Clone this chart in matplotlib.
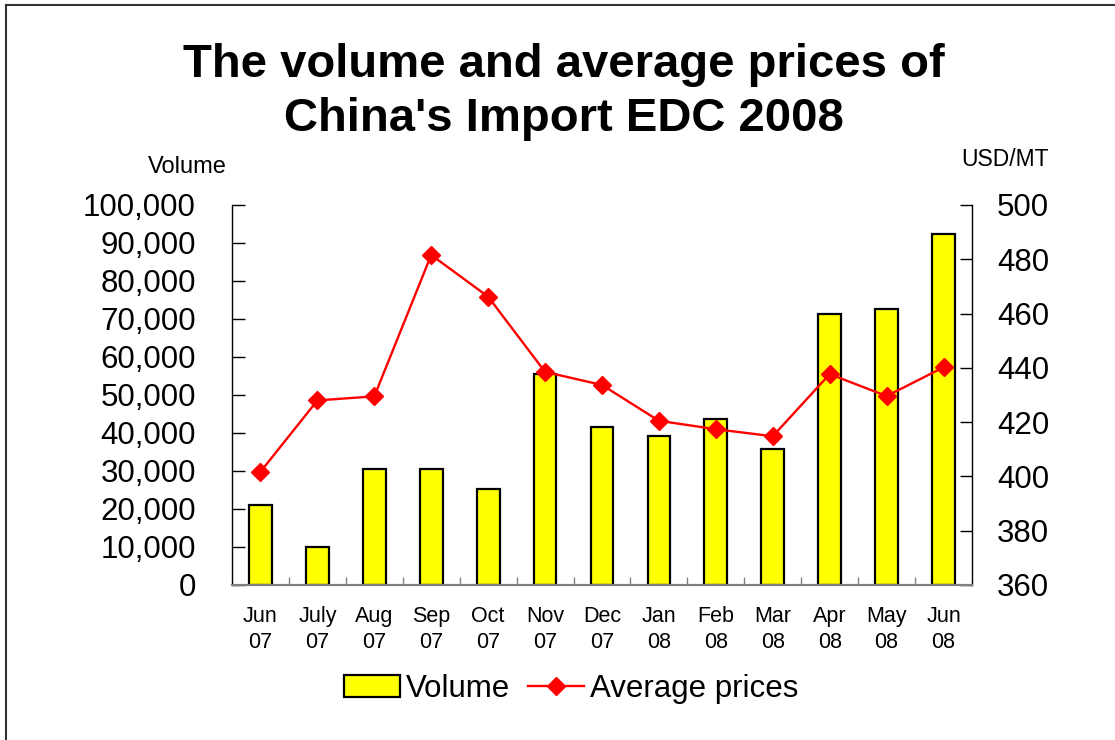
import numpy as np
import matplotlib
matplotlib.use("Agg")
import matplotlib.pyplot as plt
from matplotlib.lines import Line2D
from matplotlib.patches import Patch
from matplotlib.ticker import FuncFormatter, FixedLocator

plt.rcParams['font.family'] = ['Liberation Sans', 'DejaVu Sans']

months = ["Jun\n07", "July\n07", "Aug\n07", "Sep\n07", "Oct\n07", "Nov\n07", "Dec\n07",
          "Jan\n08", "Feb\n08", "Mar\n08", "Apr\n08", "May\n08", "Jun\n08"]
volume = [21100, 10000, 30400, 30400, 25200, 55600, 41500,
          39200, 43800, 35700, 71200, 72500, 92400]
price = [401.7, 428.0, 429.5, 481.6, 466.2, 438.5, 433.7,
         420.5, 417.4, 414.8, 437.7, 429.6, 440.2]

W, H = 1115, 740
fig = plt.figure(figsize=(W / 100, H / 100), dpi=100)
ax = fig.add_axes([232 / W, 1 - 585 / H, (972 - 232) / W, (585 - 205) / H])
ax2 = ax.twinx()
ax.set_zorder(1)
ax2.set_zorder(2)
ax.patch.set_visible(False)

x = np.arange(len(months))
ax.bar(x, volume, width=0.4, color="#FFFF00", edgecolor="black", linewidth=1.6, zorder=2)
ax2.plot(x, price, color="#FF0000", linewidth=1.7, marker="D", markersize=9,
         markerfacecolor="#FF0000", markeredgecolor="#FF0000", zorder=3)

ax.set_xlim(-0.5, len(months) - 0.5)
ax.set_ylim(0, 100000)
ax2.set_ylim(360, 500)
ax.set_yticks(np.arange(0, 100001, 10000))
ax2.set_yticks(np.arange(360, 501, 20))
ax.yaxis.set_major_formatter(FuncFormatter(lambda v, p: f"{int(v):,}"))

ax.set_xticks(x)
ax.set_xticklabels(months, fontsize=15.5, linespacing=1.35)
ax.xaxis.set_minor_locator(FixedLocator(np.arange(0.5, len(months) - 1, 1)))
ax.tick_params(axis="x", which="major", length=0, pad=15)
ax.tick_params(axis="x", which="minor", direction="in", length=6, width=1, color="#808080")
ax.tick_params(axis="y", direction="in", length=9, width=1, labelsize=22.5, pad=26)
ax2.tick_params(axis="y", direction="in", length=9, width=1, labelsize=22.5, pad=18)

for a in (ax, ax2):
    a.spines["top"].set_visible(False)
    a.spines["bottom"].set_color("#808080")
    a.spines["bottom"].set_linewidth(1.5)
    a.spines["left"].set_linewidth(1)
    a.spines["right"].set_linewidth(1)
ax.spines["right"].set_visible(False)
ax2.spines["left"].set_visible(False)

fig.text(564 / W, 1 - 92 / H, "The volume and average prices of\nChina's Import EDC 2008",
         ha="center", va="center", fontsize=34, fontweight="bold", linespacing=1.3)
fig.text(187 / W, 1 - 167 / H, "Volume", ha="center", va="center", fontsize=17)
fig.text(1005 / W, 1 - 160 / H, "USD/MT", ha="center", va="center", fontsize=16.5)

handles = [Patch(facecolor="#FFFF00", edgecolor="black", linewidth=1.6),
           Line2D([], [], color="#FF0000", linewidth=1.7, marker="D", markersize=9)]
fig.legend(handles, ["Volume", "Average prices"], loc="center", bbox_to_anchor=(571 / W, 1 - 689 / H),
           ncol=2, frameon=False, fontsize=22.5, handlelength=1.8, handleheight=0.7,
           handletextpad=0.2, columnspacing=0.55)

# outer frame (left and top edges)
fig.add_artist(Line2D([6 / W, 6 / W], [0, 1 - 5 / H], color="#333333", linewidth=1.5))
fig.add_artist(Line2D([6 / W, 1], [1 - 5 / H, 1 - 5 / H], color="#333333", linewidth=1.5))

fig.savefig("out.png", dpi=100)
